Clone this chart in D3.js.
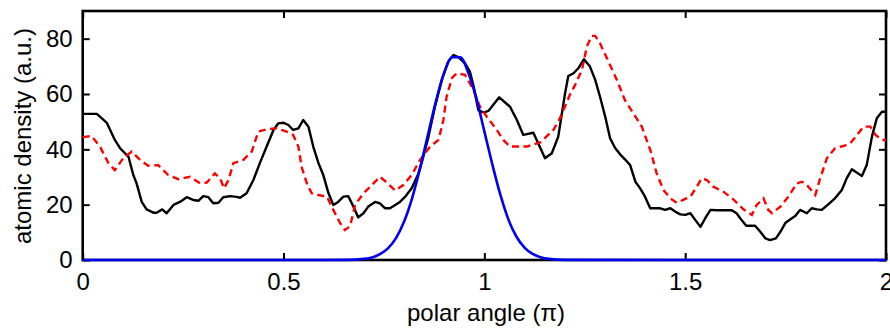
<!DOCTYPE html>
<html>
<head>
<meta charset="utf-8">
<script src="https://cdn.jsdelivr.net/npm/d3@7"></script>
<style>
  html, body { margin: 0; padding: 0; background: #fff; }
  svg { display: block; }
  text { font-family: "Liberation Sans", Arial, Helvetica, sans-serif; }
</style>
</head>
<body>
<svg id="chart" width="890" height="328"></svg>
<script>
// ---- data ----
const xTicks = [0, 0.5, 1, 1.5, 2];
const yTicks = [0, 20, 40, 60, 80];
const xLabel = "polar angle (\u03c0)";
const yLabel = "atomic density (a.u.)";

// black solid curve
const blackX = [0,0.011,0.035,0.043,0.06,0.08,0.093,0.114,0.126,0.134,0.147,0.159,0.176,0.184,0.198,0.209,0.226,0.242,0.259,0.275,0.288,0.3,0.313,0.325,0.338,0.35,0.367,0.383,0.392,0.408,0.425,0.441,0.458,0.475,0.487,0.5,0.512,0.524,0.537,0.549,0.562,0.574,0.587,0.599,0.612,0.624,0.636,0.649,0.661,0.674,0.686,0.699,0.711,0.728,0.74,0.753,0.765,0.778,0.79,0.803,0.819,0.836,0.848,0.861,0.877,0.894,0.91,0.923,0.935,0.952,0.964,0.973,0.985,0.998,1.01,1.037,1.064,1.081,1.097,1.122,1.134,1.151,1.168,1.184,1.201,1.209,1.222,1.234,1.248,1.263,1.276,1.288,1.301,1.313,1.326,1.338,1.35,1.363,1.376,1.388,1.4,1.413,1.426,1.438,1.45,1.463,1.475,1.488,1.5,1.513,1.525,1.538,1.55,1.563,1.579,1.595,1.616,1.628,1.637,1.652,1.674,1.687,1.7,1.711,1.726,1.737,1.75,1.762,1.774,1.786,1.803,1.815,1.828,1.84,1.857,1.873,1.89,1.902,1.915,1.927,1.94,1.952,1.965,1.977,1.99,2.0];
const blackY = [52.8,52.8,52.8,51.8,49.6,43.4,40.4,37.3,30.7,27.8,21,18.3,17.1,17.1,18.3,16.9,19.9,21,22.7,21.7,21.4,23.1,22.7,20.5,20.7,22.7,23.1,22.8,22.5,24.1,28.9,35,41,47,49.4,49.6,48.8,47,47.6,50.6,48.2,41,35,30.7,24.1,19.9,21,22.9,23.1,19.3,15.4,16.9,19.3,21,20.5,18.7,18.7,19.9,21,22.9,25.9,31.3,37.3,44.6,55.4,65.1,71.7,74.1,73.3,71.1,68.1,63,54.2,53.3,53.9,58.8,55.4,50.6,45.2,46,42.2,36.8,38.6,44.6,60.3,66.5,67.5,69.3,72.6,69.9,65.1,59,51.8,44,40.4,38.2,36.4,34.3,28.3,25.9,22.9,18.7,18.7,18.7,18.1,18.7,17.5,16.5,16.3,16.9,14.5,12,15.1,18.1,18,18,18,16.9,15.1,12.4,12.4,10.2,7.8,7.2,7.8,10.2,13.5,14.7,15.9,18.1,16.9,18.7,18.3,18.1,20.2,22.3,25.3,29.5,32.8,31.6,30.4,34.3,44.6,51.2,53.6,53.6];

// red dashed curve
const redX = [0,0.022,0.043,0.064,0.08,0.101,0.122,0.143,0.163,0.188,0.213,0.238,0.267,0.292,0.309,0.329,0.342,0.352,0.363,0.375,0.4,0.421,0.437,0.458,0.483,0.508,0.524,0.537,0.545,0.558,0.57,0.587,0.608,0.624,0.641,0.653,0.666,0.678,0.699,0.72,0.74,0.757,0.778,0.798,0.819,0.84,0.865,0.886,0.898,0.906,0.919,0.931,0.952,0.973,0.989,1.006,1.031,1.047,1.064,1.106,1.139,1.172,1.188,1.197,1.213,1.226,1.243,1.255,1.267,1.276,1.288,1.309,1.33,1.35,1.371,1.392,1.413,1.429,1.446,1.463,1.479,1.495,1.513,1.529,1.541,1.554,1.57,1.595,1.62,1.645,1.666,1.678,1.695,1.707,1.716,1.737,1.757,1.778,1.791,1.803,1.824,1.836,1.853,1.873,1.894,1.911,1.928,1.944,1.961,1.974,1.99,2.0];
const redY = [44.4,44.8,41,35,32.5,36.8,39.2,36.2,34.1,34.3,30.7,29.2,30.1,27.7,28,31.3,29.5,25.9,28.9,35,36.2,39.2,46.4,47.2,47.6,46.4,45.2,41,33.7,27.7,24.1,23.5,22.9,18.1,13.3,10.8,12.3,19.9,24.1,27.1,30.1,28,25.1,27.1,30.7,36.2,41,43.4,50.6,59,65.7,67.5,66.9,61.5,55.4,51.8,47,43.4,41,41,42.5,47,51.2,54.2,59.7,63.3,68.7,77.1,81,81,78.3,71.7,65.1,57.8,53,48.2,39.8,31.3,25.3,22.3,20.7,21.7,22.9,26.5,29.5,28.9,26.5,24.7,21.9,18.3,16.3,19.9,22.3,18.1,16.9,19.3,22.9,27.7,28.3,27.1,23.5,29.5,36.8,40.4,41.2,42.2,45.2,48.2,48.2,45.2,43.4,43.4];

// blue solid curve
const blueX = [0,0.3,0.6,0.66,0.7,0.72,0.74,0.76,0.78,0.8,0.82,0.84,0.86,0.88,0.9,0.92,0.94,0.96,0.98,1.0,1.02,1.04,1.06,1.08,1.1,1.12,1.14,1.16,1.2,1.5,2.0];
const blueY = [0,0,0,0.05,0.4,0.9,2.1,4.2,7.9,13.8,22.3,33.2,45.5,57.7,67.7,73.3,73.3,67.7,58.5,46.5,34.5,23.5,14.6,8.4,4.5,2.2,1.0,0.4,0.05,0,0];

// ---- chart ----
const W = 890, H = 328;
const L = 82.7, R = 886, T = 11, B = 260;
const svg = d3.select("#chart");

const x = d3.scaleLinear().domain([0, 2]).range([L, R]);
const y = d3.scaleLinear().domain([0, 90]).range([B, T]);

const fs = 24;
const tickLen = 7;

// bottom axis
const gB = svg.append("g").attr("transform", `translate(0,${B})`)
  .call(d3.axisBottom(x).tickValues(xTicks).tickFormat(d3.format("")).tickSizeInner(-tickLen).tickSizeOuter(0).tickPadding(13));
// top axis
const gT = svg.append("g").attr("transform", `translate(0,${T})`)
  .call(d3.axisTop(x).tickValues(xTicks).tickFormat("").tickSizeInner(-tickLen).tickSizeOuter(0));
// left axis
const gL = svg.append("g").attr("transform", `translate(${L},0)`)
  .call(d3.axisLeft(y).tickValues(yTicks).tickFormat(d3.format("")).tickSizeInner(-tickLen).tickSizeOuter(0).tickPadding(10));
// right axis
const gR = svg.append("g").attr("transform", `translate(${R},0)`)
  .call(d3.axisRight(y).tickValues(yTicks).tickFormat("").tickSizeInner(-tickLen).tickSizeOuter(0));

[gB, gT, gL, gR].forEach(g => {
  g.select(".domain").remove();
  g.selectAll(".tick line").attr("stroke", "#000").attr("stroke-width", 2);
  g.selectAll(".tick text").attr("fill", "#000")
    .style("font-size", fs + "px")
    .style("font-family", '"Liberation Sans", Arial, Helvetica, sans-serif');
});

// curves
const mk = (xs, ys) => xs.map((v, i) => [v, ys[i]]);
const line = d3.line().x(d => x(d[0])).y(d => y(d[1]));

const plot = svg.append("g");
plot.append("path").datum(mk(blackX, blackY))
  .attr("d", line).attr("fill", "none").attr("stroke", "#000")
  .attr("stroke-width", 2.4).attr("stroke-linejoin", "round");
plot.append("path").datum(mk(redX, redY))
  .attr("d", line).attr("fill", "none").attr("stroke", "#ff0000")
  .attr("stroke-width", 2.4).attr("stroke-dasharray", "7,4.5");

// frame
svg.append("rect").attr("x", L).attr("y", T).attr("width", R - L).attr("height", B - T)
  .attr("fill", "none").attr("stroke", "#000").attr("stroke-width", 2.6);

plot.append("path").datum(mk(blueX, blueY))
  .attr("d", d3.line().x(d => x(d[0])).y(d => y(d[1])).curve(d3.curveMonotoneX))
  .attr("fill", "none").attr("stroke", "#0000ee")
  .attr("stroke-width", 2.6).attr("stroke-linejoin", "round");
svg.node().appendChild(plot.node());

// axis labels
svg.append("text").attr("x", 486).attr("y", 321).attr("text-anchor", "middle")
  .style("font-size", fs + "px").attr("fill", "#000").text(xLabel);
svg.append("text").attr("transform", "translate(31,136) rotate(-90)").attr("text-anchor", "middle")
  .style("font-size", fs + "px").attr("fill", "#000").text(yLabel);
</script>
</body>
</html>
